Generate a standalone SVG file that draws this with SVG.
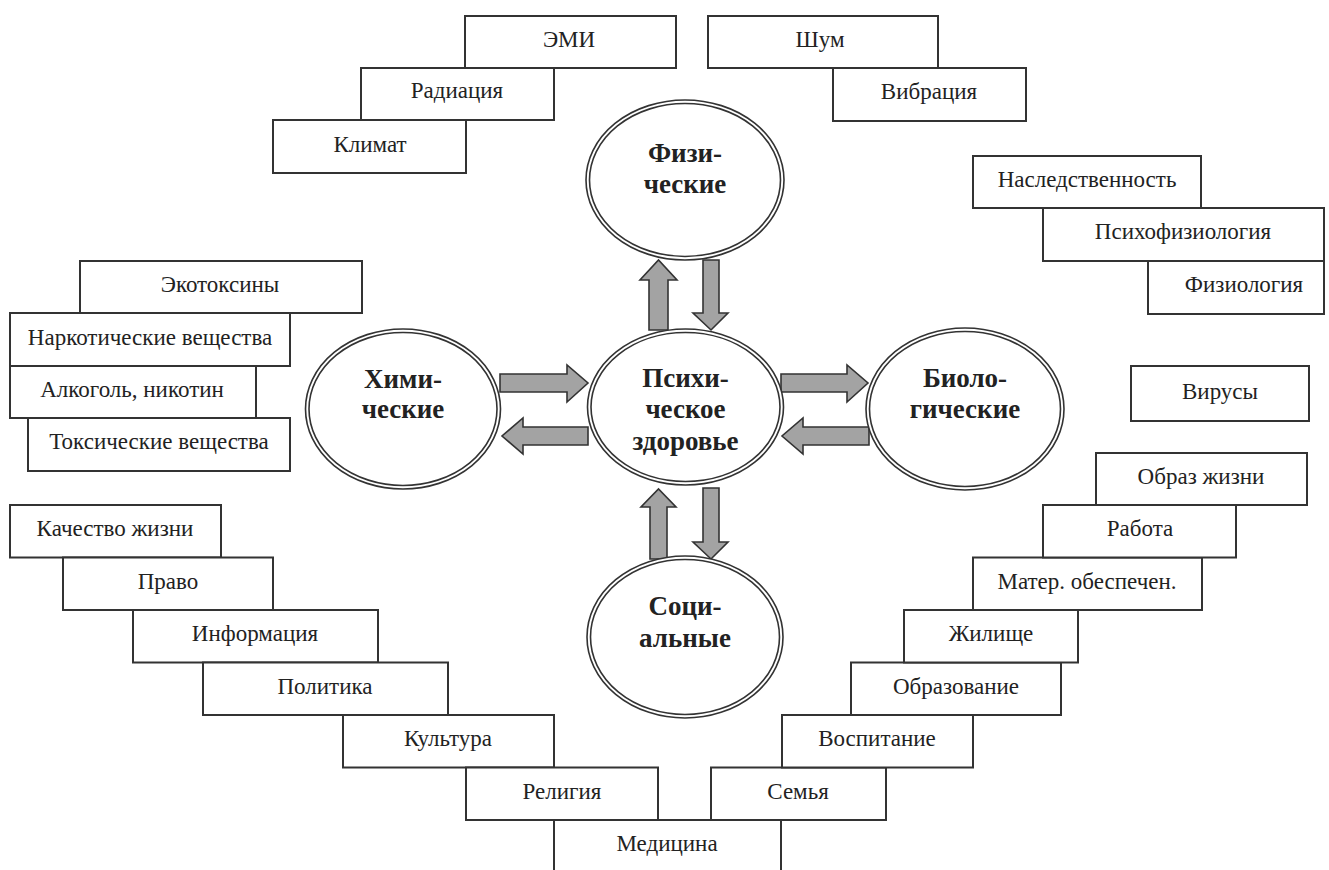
<svg xmlns="http://www.w3.org/2000/svg" width="1329" height="870" viewBox="0 0 1329 870">
<style>
.bx{fill:#fff;stroke:#333;stroke-width:2}
.t{font-family:"Liberation Serif","Times New Roman",serif;font-size:23px;fill:#222;text-anchor:middle}
.b{font-family:"Liberation Serif","Times New Roman",serif;font-size:27px;font-weight:bold;fill:#222;text-anchor:middle}
.el{fill:#fff;stroke:#333;stroke-width:1.6}
.el2{fill:none;stroke:#333;stroke-width:1.6}
.ar{fill:#a3a3a3;stroke:#333;stroke-width:1.6;stroke-linejoin:miter}
</style>
<rect x="0" y="0" width="1329" height="870" fill="#fff"/>

<g id="connectors">
<polygon class="ar" points="649,330 649,280 640,280 658.5,260 677,280 668,280 668,330"/>
<polygon class="ar" points="703,260 719,260 719,313 728,313 711,330 693,313 703,313"/>
<polygon class="ar" points="650,559 650,507 641,507 658.5,489 676,507 667,507 667,559"/>
<polygon class="ar" points="703,488 719,488 719,542 728,542 711,559 693,542 703,542"/>
<polygon class="ar" points="500,374 567,374 567,365 588,383 567,402 567,392 500,392"/>
<polygon class="ar" points="588,427 523,427 523,418 502,436 523,454 523,445 588,445"/>
<polygon class="ar" points="781,374 847,374 847,365 868,383 847,402 847,392 781,392"/>
<polygon class="ar" points="869,427 803,427 803,418 782,436 803,454 803,445 869,445"/>
</g>

<g id="fizicheskie">
<ellipse class="el" cx="685" cy="180" rx="99" ry="80"/>
<ellipse class="el2" cx="685" cy="180" rx="95.5" ry="76.5"/>
<text class="b" x="685" y="162">Физи-</text>
<text class="b" x="685" y="193">ческие</text>
</g>
<g id="psihicheskoe">
<ellipse class="el" cx="685.5" cy="407" rx="98" ry="78"/>
<ellipse class="el2" cx="685.5" cy="407" rx="94.5" ry="74.5"/>
<text class="b" x="685.5" y="387">Психи-</text>
<text class="b" x="685.5" y="418">ческое</text>
<text class="b" x="685.5" y="450">здоровье</text>
</g>
<g id="himicheskie">
<ellipse class="el" cx="403" cy="409" rx="97.5" ry="80"/>
<ellipse class="el2" cx="403" cy="409" rx="94" ry="76.5"/>
<text class="b" x="403" y="388">Хими-</text>
<text class="b" x="403" y="418">ческие</text>
</g>
<g id="biologicheskie">
<ellipse class="el" cx="965" cy="409" rx="99" ry="81"/>
<ellipse class="el2" cx="965" cy="409" rx="95.5" ry="77.5"/>
<text class="b" x="965" y="387">Биоло-</text>
<text class="b" x="965" y="418">гические</text>
</g>
<g id="socialnye">
<ellipse class="el" cx="685" cy="637" rx="98" ry="81"/>
<ellipse class="el2" cx="685" cy="637" rx="94.5" ry="77.5"/>
<text class="b" x="685" y="615">Соци-</text>
<text class="b" x="685" y="647">альные</text>
</g>

<g id="emi"><rect class="bx" x="465" y="16" width="211" height="52"/><text class="t" x="569" y="47">ЭМИ</text></g>
<g id="radiaciya"><rect class="bx" x="361" y="68" width="193" height="52"/><text class="t" x="457" y="98">Радиация</text></g>
<g id="klimat"><rect class="bx" x="273" y="120" width="193" height="53"/><text class="t" x="370" y="152">Климат</text></g>
<g id="shum"><rect class="bx" x="708" y="16" width="230" height="52"/><text class="t" x="820" y="47">Шум</text></g>
<g id="vibraciya"><rect class="bx" x="833" y="68" width="193" height="53"/><text class="t" x="929" y="99">Вибрация</text></g>

<g id="nasledstvennost"><rect class="bx" x="973" y="156" width="228" height="52"/><text class="t" x="1087" y="187">Наследственность</text></g>
<g id="psihofiziologiya"><rect class="bx" x="1043" y="208" width="281" height="53"/><text class="t" x="1183" y="239">Психофизиология</text></g>
<g id="fiziologiya"><rect class="bx" x="1148" y="261" width="176" height="53"/><text class="t" x="1244" y="292">Физиология</text></g>

<g id="ekotoksiny"><rect class="bx" x="80" y="261" width="282" height="52"/><text class="t" x="220" y="292">Экотоксины</text></g>
<g id="narkoticheskie"><rect class="bx" x="10" y="313" width="280" height="53"/><text class="t" x="150" y="345">Наркотические вещества</text></g>
<g id="alkogol"><rect class="bx" x="10" y="366" width="246" height="52"/><text class="t" x="132" y="397">Алкоголь, никотин</text></g>
<g id="toksicheskie"><rect class="bx" x="28" y="418" width="262" height="53"/><text class="t" x="159" y="449">Токсические вещества</text></g>

<g id="virusy"><rect class="bx" x="1131" y="366" width="178" height="55"/><text class="t" x="1220" y="399">Вирусы</text></g>

<g id="kachestvo"><rect class="bx" x="10" y="505" width="211" height="52.5"/><text class="t" x="115" y="536">Качество жизни</text></g>
<g id="pravo"><rect class="bx" x="63" y="557.5" width="210" height="52.5"/><text class="t" x="168" y="589">Право</text></g>
<g id="informaciya"><rect class="bx" x="133" y="610" width="245" height="52.5"/><text class="t" x="255" y="641">Информация</text></g>
<g id="politika"><rect class="bx" x="203" y="662.5" width="245" height="52.5"/><text class="t" x="325" y="694">Политика</text></g>
<g id="kultura"><rect class="bx" x="343" y="715" width="211" height="52.5"/><text class="t" x="448" y="746">Культура</text></g>
<g id="religiya"><rect class="bx" x="466" y="767.5" width="192" height="52.5"/><text class="t" x="562" y="799">Религия</text></g>
<g id="medicina"><rect class="bx" x="554" y="820" width="227" height="60"/><text class="t" x="667" y="851">Медицина</text></g>
<g id="semya"><rect class="bx" x="711" y="767.5" width="175" height="52.5"/><text class="t" x="798" y="799">Семья</text></g>
<g id="vospitanie"><rect class="bx" x="782" y="715" width="191" height="52.5"/><text class="t" x="877" y="746">Воспитание</text></g>
<g id="obrazovanie"><rect class="bx" x="851" y="662.5" width="210" height="52.5"/><text class="t" x="956" y="694">Образование</text></g>
<g id="zhilishche"><rect class="bx" x="904" y="610" width="174" height="52.5"/><text class="t" x="991" y="641">Жилище</text></g>
<g id="mater"><rect class="bx" x="973" y="557.5" width="229" height="52.5"/><text class="t" x="1087" y="589">Матер. обеспечен.</text></g>
<g id="rabota"><rect class="bx" x="1043" y="505" width="193" height="52.5"/><text class="t" x="1140" y="536">Работа</text></g>
<g id="obraz"><rect class="bx" x="1096" y="453" width="211" height="52"/><text class="t" x="1201" y="484">Образ жизни</text></g>
</svg>
